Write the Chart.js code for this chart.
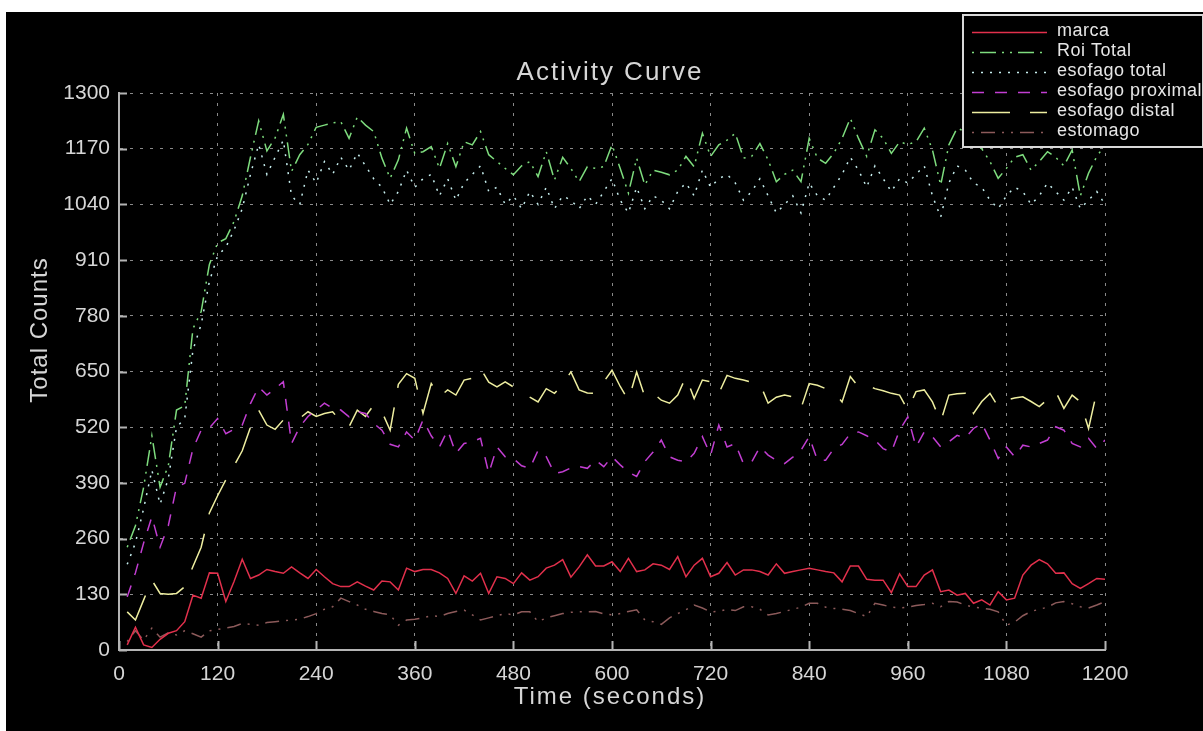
<!DOCTYPE html>
<html>
<head>
<meta charset="utf-8">
<title>Activity Curve</title>
<script src="https://cdn.jsdelivr.net/npm/chart.js@4/dist/chart.umd.min.js"></script>
<style>
  html, body { margin: 0; padding: 0; background: #fff; width: 1203px; height: 731px; overflow: hidden; }
  #wrap { position: absolute; left: 6px; top: 12px; width: 1197px; height: 719px; background: #000; }
</style>
</head>
<body>
<div id="wrap"><canvas id="curve"></canvas></div>
<script>
/* ── Data ───────────────────────────────────────────────────────────────────── */
const TIMES = [
  10, 20, 30, 40, 50, 60, 70, 80, 90, 100,
  110, 120, 130, 140, 150, 160, 170, 180, 190, 200,
  210, 220, 230, 240, 250, 260, 270, 280, 290, 300,
  310, 320, 330, 340, 350, 360, 370, 380, 390, 400,
  410, 420, 430, 440, 450, 460, 470, 480, 490, 500,
  510, 520, 530, 540, 550, 560, 570, 580, 590, 600,
  610, 620, 630, 640, 650, 660, 670, 680, 690, 700,
  710, 720, 730, 740, 750, 760, 770, 780, 790, 800,
  810, 820, 830, 840, 850, 860, 870, 880, 890, 900,
  910, 920, 930, 940, 950, 960, 970, 980, 990, 1000,
  1010, 1020, 1030, 1040, 1050, 1060, 1070, 1080, 1090, 1100,
  1110, 1120, 1130, 1140, 1150, 1160, 1170, 1180, 1190, 1200,
];

const MARCA = [
  12, 53, 12, 6, 25, 39, 45, 66, 128, 121,
  180, 179, 113, 160, 212, 167, 175, 188, 183, 179,
  194, 180, 167, 188, 171, 155, 148, 148, 159, 149,
  140, 161, 159, 140, 191, 183, 188, 188, 180, 167,
  132, 173, 161, 179, 132, 171, 167, 155, 180, 163,
  171, 191, 198, 211, 170, 194, 222, 196, 196, 206,
  183, 214, 183, 187, 201, 198, 188, 218, 171, 198,
  214, 171, 179, 204, 175, 187, 187, 183, 175, 201,
  179, 183, 187, 191, 187, 183, 180, 159, 196, 196,
  165, 163, 163, 134, 178, 148, 148, 175, 187, 136,
  140, 128, 132, 109, 117, 105, 136, 117, 121, 175,
  198, 211, 201, 179, 180, 155, 144, 155, 167, 165,
];

const ROI_TOTAL = [
  240, 290, 380, 500, 380, 430, 560, 570, 750, 790,
  900, 950, 960, 1000, 1060, 1150, 1235, 1165, 1195, 1250,
  1117, 1156, 1180, 1220, 1225, 1230, 1233, 1194, 1244, 1225,
  1210, 1148, 1101, 1144, 1218, 1159, 1163, 1175, 1124, 1182,
  1128, 1186, 1179, 1210, 1156, 1140, 1124, 1109, 1130, 1140,
  1105, 1163, 1097, 1150, 1124, 1093, 1128, 1124, 1128, 1179,
  1124, 1066, 1148, 1085, 1120, 1115, 1109, 1120, 1152, 1128,
  1206, 1152, 1179, 1190, 1206, 1148, 1152, 1182, 1144, 1093,
  1110, 1120, 1093, 1194, 1148, 1136, 1160, 1194, 1241, 1194,
  1152, 1214, 1194, 1159, 1186, 1180, 1186, 1218, 1167, 1085,
  1179, 1218, 1210, 1190, 1170, 1140, 1101, 1124, 1150, 1156,
  1120, 1140, 1163, 1150, 1130, 1167, 1060, 1113, 1152, 1179,
];

const ESOFAGO_TOTAL = [
  200, 250, 330, 420, 340, 400, 520, 540, 700, 760,
  860, 920, 940, 980, 1030, 1110, 1180, 1110, 1150, 1190,
  1060, 1040, 1120, 1090, 1140, 1110, 1150, 1120, 1160, 1130,
  1100, 1080, 1040, 1070, 1120, 1080, 1100, 1110, 1060, 1100,
  1050, 1090, 1110, 1130, 1070, 1080, 1040, 1060, 1030, 1070,
  1040, 1080, 1030, 1060, 1050, 1030, 1060, 1040, 1070, 1100,
  1050, 1020, 1080, 1030, 1060, 1050, 1030, 1070, 1090, 1060,
  1120, 1080, 1100, 1110, 1090, 1050, 1070, 1100, 1060, 1020,
  1040, 1060, 1020, 1090, 1060, 1050, 1080, 1110, 1150, 1120,
  1080, 1130, 1100, 1070, 1100, 1090, 1110, 1130, 1060, 1010,
  1090, 1130, 1120, 1090, 1080, 1050, 1030, 1060, 1080, 1070,
  1040, 1060, 1090, 1070, 1050, 1080, 1030, 1050, 1070, 1040,
];

const ESOFAGO_PROXIMAL = [
  124, 180, 250, 311, 240, 290, 381, 389, 470, 513,
  518, 540, 505, 515, 525, 575, 614, 595, 610, 626,
  482, 521, 545, 560, 576, 564, 560, 544, 556, 552,
  529, 513, 480, 474, 509, 490, 537, 500, 474, 513,
  459, 482, 486, 494, 412, 474, 451, 447, 430, 424,
  466, 451, 412, 416, 425, 428, 424, 443, 428, 451,
  432, 415, 405, 440, 462, 490, 451, 443, 439, 459,
  498, 455, 525, 474, 482, 435, 439, 474, 455, 443,
  435, 450, 466, 498, 443, 443, 470, 480, 505, 509,
  500, 490, 470, 462, 513, 544, 474, 509, 498, 474,
  486, 501, 495, 517, 529, 490, 447, 474, 451, 478,
  474, 482, 490, 521, 513, 482, 474, 494, 470, 490,
];

const ESOFAGO_DISTAL = [
  89, 70, 117, 163, 132, 130, 132, 148, 195, 240,
  320, 360, 397, 430, 465, 520, 560, 525, 515, 537,
  541, 541, 556, 545, 552, 556, 533, 521, 560, 545,
  572, 556, 513, 620, 645, 634, 552, 622, 591, 607,
  595, 630, 634, 657, 625, 614, 626, 614, 603, 590,
  579, 610, 599, 620, 649, 607, 600, 599, 626, 653,
  615, 583, 649, 591, 600, 583, 576, 595, 638, 587,
  630, 626, 599, 641, 634, 630, 625, 622, 576, 590,
  595, 591, 564, 622, 618, 610, 603, 579, 638, 614,
  618, 610, 605, 599, 595, 560, 603, 607, 579, 533,
  595, 598, 599, 552, 580, 599, 568, 583, 588, 591,
  580, 568, 585, 603, 564, 595, 579, 517, 603, 603,
];

const ESTOMAGO = [
  20, 45, 23, 51, 30, 40, 35, 45, 38, 30,
  45, 48, 51, 55, 62, 60, 58, 64, 66, 68,
  70, 72, 78, 85, 95, 101, 121, 113, 105, 95,
  90, 85, 82, 58, 70, 72, 75, 80, 78, 85,
  90, 93, 82, 70, 75, 80, 85, 82, 89, 89,
  66, 75, 80, 85, 88, 89, 89, 90, 84, 82,
  85, 90, 94, 70, 66, 60, 75, 85, 94, 105,
  98, 89, 90, 95, 92, 101, 101, 95, 82, 85,
  90, 95, 100, 109, 109, 100, 97, 95, 92, 85,
  78, 109, 105, 100, 98, 100, 104, 106, 109, 101,
  113, 112, 105, 100, 98, 95, 89, 58, 65, 80,
  90, 95, 100, 110, 113, 108, 101, 98, 105, 113,
];

const SERIES_NAMES = ["marca", "Roi Total", "esofago total", "esofago proximal", "esofago distal", "estomago"];
const SERIES_VALUES = [MARCA, ROI_TOTAL, ESOFAGO_TOTAL, ESOFAGO_PROXIMAL, ESOFAGO_DISTAL, ESTOMAGO];

/* ── Styles ─────────────────────────────────────────────────────────────────── */
const SERIES_STYLES = [
  { color: "#e2304c", dash: [] },
  { color: "#7edc7e", dash: [2, 6, 16, 6, 2, 6] },
  { color: "#c6eeee", dash: [2, 7] },
  { color: "#c23ed2", dash: [12, 11] },
  { color: "#eeeea0", dash: [38, 20] },
  { color: "#8c5a5a", dash: [2, 7, 14, 7, 2, 7] },
];

const AXIS_COLOR = "#b4b4b4";
const GRID_COLOR = "#8a8a8a";
const TEXT_COLOR = "#d6d6d6";
const FONT = "'Liberation Sans', Arial, sans-serif";

/* ── Decorations: titles, inward ticks, legend ──────────────────────────────── */
const decorPlugin = {
  id: "decor",
  afterDraw(chart) {
    const { ctx, chartArea, scales } = chart;
    ctx.save();

    // small inward tick marks
    ctx.strokeStyle = AXIS_COLOR;
    ctx.lineWidth = 2;
    ctx.setLineDash([]);
    scales.x.ticks.forEach((t) => {
      const px = Math.round(scales.x.getPixelForValue(t.value)) + 0.5;
      ctx.beginPath();
      ctx.moveTo(px, chartArea.bottom);
      ctx.lineTo(px, chartArea.bottom - 9);
      ctx.stroke();
    });
    scales.y.ticks.forEach((t) => {
      const py = Math.round(scales.y.getPixelForValue(t.value)) + 0.5;
      ctx.beginPath();
      ctx.moveTo(chartArea.left, py);
      ctx.lineTo(chartArea.left + 8, py);
      ctx.stroke();
    });

    // titles
    ctx.fillStyle = TEXT_COLOR;
    ctx.textAlign = "center";
    ctx.textBaseline = "middle";
    ctx.letterSpacing = "2px";
    ctx.font = `26px ${FONT}`;
    ctx.fillText("Activity Curve", 604, 61);
    ctx.font = `24px ${FONT}`;
    ctx.fillText("Time (seconds)", 604, 685);

    ctx.save();
    ctx.translate(34, 318);
    ctx.rotate(-Math.PI / 2);
    ctx.letterSpacing = "1px";
    ctx.fillText("Total Counts", 0, 0);
    ctx.restore();

    // legend box, drawn over the curves
    const bx = 957, by = 3, bw = 240, bh = 132;
    ctx.fillStyle = "#000";
    ctx.fillRect(bx, by, bw, bh);
    ctx.strokeStyle = "#d8d8d8";
    ctx.lineWidth = 2;
    ctx.strokeRect(bx, by, bw, bh);

    ctx.letterSpacing = "0.5px";
    ctx.font = `18px ${FONT}`;
    ctx.textAlign = "left";
    SERIES_NAMES.forEach((name, i) => {
      const y = 20 + i * 20;
      const st = SERIES_STYLES[i];
      ctx.strokeStyle = st.color;
      ctx.lineWidth = 1.6;
      ctx.setLineDash(st.dash);
      ctx.beginPath();
      ctx.moveTo(966, y + 0.5);
      ctx.lineTo(1041, y + 0.5);
      ctx.stroke();
      ctx.setLineDash([]);
      ctx.fillStyle = "#e6e6e6";
      ctx.fillText(name, 1051, y - 1);
    });

    ctx.restore();
  },
};

/* ── Chart ──────────────────────────────────────────────────────────────────── */
const datasets = SERIES_NAMES.map((name, i) => ({
  label: name,
  data: SERIES_VALUES[i].map((v, k) => ({ x: TIMES[k], y: v })),
  borderColor: SERIES_STYLES[i].color,
  borderDash: SERIES_STYLES[i].dash,
  borderWidth: 1.5,
  pointRadius: 0,
  fill: false,
  tension: 0,
}));

const plainTick = (v) => String(v);

new Chart(document.getElementById("curve"), {
  type: "line",
  data: { datasets },
  plugins: [decorPlugin],
  options: {
    responsive: true,
    maintainAspectRatio: false,
    animation: false,
    layout: { padding: { top: 81, right: 98, left: 0, bottom: 0 } },
    plugins: {
      legend: { display: false },
      title: { display: false },
      tooltip: { enabled: false },
    },
    scales: {
      x: {
        type: "linear",
        min: 0,
        max: 1200,
        afterFit: (scale) => { scale.height = 81; },
        ticks: {
          stepSize: 120,
          color: TEXT_COLOR,
          padding: 12,
          maxRotation: 0,
          callback: plainTick,
          font: { family: FONT, size: 21 },
        },
        grid: { color: GRID_COLOR, lineWidth: 1, drawTicks: false },
        border: { color: AXIS_COLOR, width: 2, dash: [3, 7] },
      },
      y: {
        min: 0,
        max: 1300,
        afterFit: (scale) => { scale.width = 113; },
        ticks: {
          stepSize: 130,
          color: TEXT_COLOR,
          padding: 9,
          callback: plainTick,
          font: { family: FONT, size: 21 },
        },
        grid: { color: GRID_COLOR, lineWidth: 1, drawTicks: false },
        border: { color: AXIS_COLOR, width: 2, dash: [3, 7] },
      },
    },
  },
});
</script>
</body>
</html>
